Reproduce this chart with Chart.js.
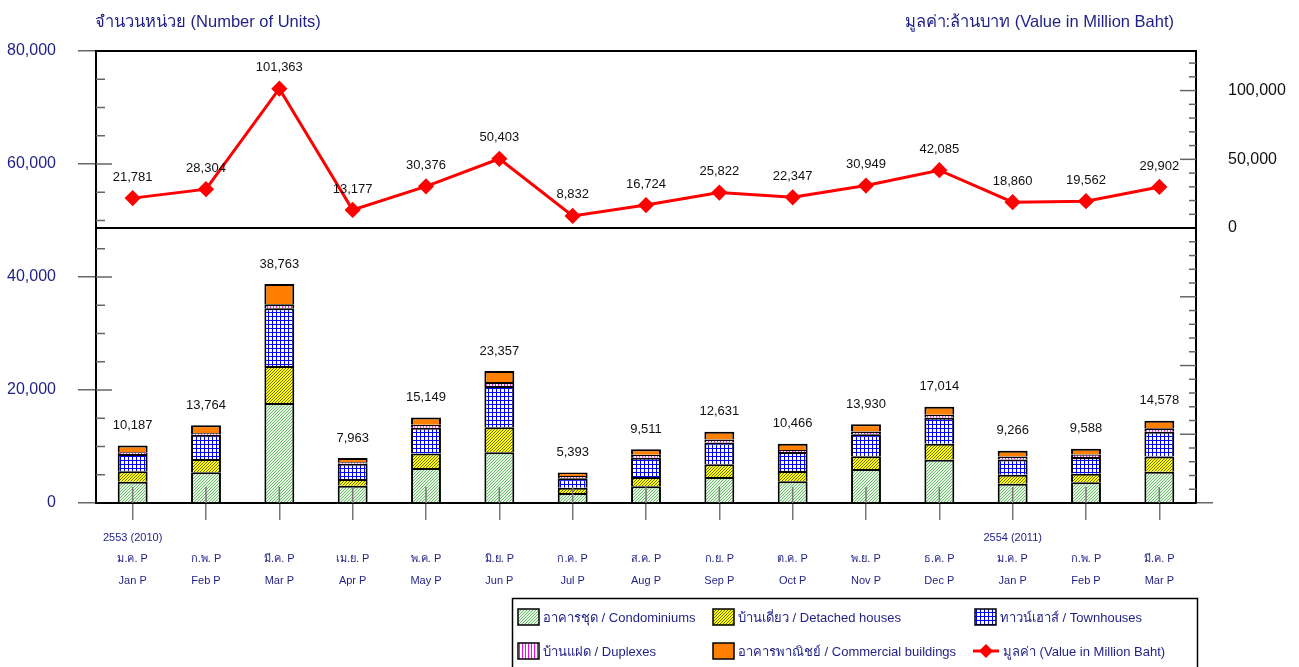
<!DOCTYPE html>
<html>
<head>
<meta charset="utf-8">
<script src="https://cdn.jsdelivr.net/npm/chart.js@4"></script>
<style>
  body { margin: 0; background: #fff; }
  canvas { display: block; }
</style>
</head>
<body>
<canvas id="housingChart" width="1299" height="667"></canvas>
<script>
const yearRow = ["2553 (2010)", "", "", "", "", "", "", "", "", "", "", "", "2554 (2011)", "", ""];
const thaiMonths = ["ม.ค. P", "ก.พ. P", "มี.ค. P", "เม.ย. P", "พ.ค. P", "มิ.ย. P", "ก.ค. P", "ส.ค. P", "ก.ย. P", "ต.ค. P", "พ.ย. P", "ธ.ค. P", "ม.ค. P", "ก.พ. P", "มี.ค. P"];
const engMonths = ["Jan P", "Feb P", "Mar P", "Apr P", "May P", "Jun P", "Jul P", "Aug P", "Sep P", "Oct P", "Nov P", "Dec P", "Jan P", "Feb P", "Mar P"];

// units by type
const condo = [3780, 5430, 17700, 3070, 6200, 9000, 1770, 2950, 4600, 3830, 6020, 7670, 3420, 3660, 5540];
const detached = [1830, 2360, 6550, 1180, 2540, 4400, 940, 1650, 2240, 1830, 2240, 2830, 1590, 1530, 2710];
const townhouse = [3070, 4300, 10210, 2710, 4600, 7300, 1650, 3420, 3890, 3360, 3890, 4600, 2710, 2950, 4370];
const duplex = [300, 300, 710, 250, 500, 700, 400, 500, 500, 350, 500, 500, 500, 450, 600];
const commercial = [1207, 1374, 3593, 753, 1309, 1957, 633, 991, 1401, 1096, 1280, 1414, 1046, 998, 1358];
const totalUnits = [10187, 13764, 38763, 7963, 15149, 23357, 5393, 9511, 12631, 10466, 13930, 17014, 9266, 9588, 14578];

// value in million baht
const valueMB = [21781, 28304, 101363, 13177, 30376, 50403, 8832, 16724, 25822, 22347, 30949, 42085, 18860, 19562, 29902];

const leftTicks = [0, 20000, 40000, 60000, 80000];
const rightLabels = [0, 50000, 100000];

const NAVY = "#1f1f86";
const FONT = '"Liberation Sans", "DejaVu Sans", "Noto Sans", sans-serif';

function tile(size, bg, fg, pixels) {
  const c = document.createElement("canvas");
  c.width = size; c.height = size;
  const g = c.getContext("2d");
  g.fillStyle = bg;
  g.fillRect(0, 0, size, size);
  g.fillStyle = fg;
  pixels.forEach(p => g.fillRect(p[0], p[1], 1, 1));
  return g.createPattern(c, "repeat");
}

const pat = {
  condo: tile(3, "#e6f4e6", "#6cbc6c", [[2, 0], [1, 1], [0, 2]]),
  detached: tile(3, "#ffff00", "#6b6b00", [[2, 0], [1, 1], [0, 2]]),
  townhouse: tile(4, "#ffffff", "#0000ff", [[0, 0], [1, 0], [2, 0], [3, 0], [0, 1], [0, 2], [0, 3]]),
  duplex: tile(3, "#ffffff", "#ff00ff", [[0, 0], [0, 1], [0, 2]]),
  commercial: "#ff8000",
};

const fmt = v => v.toLocaleString("en-US");

const decor = {
  id: "decor",
  afterDatasetsDraw(chart) {
    const { ctx, chartArea: a, scales } = chart;
    const x = scales.x, y = scales.y, y2 = scales.y2;
    ctx.save();
    ctx.lineWidth = 1.5;
    ctx.strokeStyle = "#666";
    const seg = (x1, y1, x2, y2_) => { ctx.beginPath(); ctx.moveTo(x1, y1); ctx.lineTo(x2, y2_); ctx.stroke(); };

    // inner ticks, left axis
    for (let v = 5000; v < 80000; v += 5000) {
      const py = y.getPixelForValue(v);
      seg(a.left, py, a.left + (v % 20000 === 0 ? 16 : 9), py);
    }
    // inner ticks, right axis
    for (let v = -190000; v <= 120000; v += 10000) {
      if (v === 0) continue;
      const py = y2.getPixelForValue(v);
      seg(a.right - (v % 50000 === 0 ? 16 : 7), py, a.right, py);
    }
    // category ticks running into the bars
    ctx.strokeStyle = "#777";
    for (let i = 0; i < engMonths.length; i++) {
      const px = x.getPixelForValue(i);
      seg(px, a.bottom - 16, px, a.bottom);
    }
    // top frame and value zero line
    ctx.strokeStyle = "#000";
    ctx.lineWidth = 2;
    seg(a.left, a.top, a.right, a.top);
    const z = y2.getPixelForValue(0);
    seg(a.left, z, a.right, z);

    // right axis labels
    ctx.fillStyle = "#111";
    ctx.font = "16px " + FONT;
    ctx.textAlign = "left";
    ctx.textBaseline = "middle";
    rightLabels.forEach(v => ctx.fillText(fmt(v), a.right + 32, y2.getPixelForValue(v)));

    // labels
    ctx.font = "13px " + FONT;
    ctx.textAlign = "center";
    totalUnits.forEach((t, i) => {
      ctx.fillText(fmt(t), x.getPixelForValue(i), y.getPixelForValue(t) - 20);
    });
    const lineMeta = chart.getDatasetMeta(5);
    lineMeta.data.forEach((pt, i) => {
      ctx.fillText(fmt(valueMB[i]), pt.x, pt.y - 21);
    });
    ctx.restore();
  },
  afterDraw(chart) {
    const ctx = chart.ctx;
    ctx.save();
    ctx.fillStyle = NAVY;
    ctx.font = "16.5px " + FONT;
    ctx.textBaseline = "middle";
    ctx.textAlign = "left";
    ctx.fillText("จำนวนหน่วย (Number of Units)", 95, 22);
    ctx.textAlign = "right";
    ctx.fillText("มูลค่า:ล้านบาท (Value in Million Baht)", 1174, 22);

    // legend box
    ctx.strokeStyle = "#000";
    ctx.lineWidth = 1.5;
    ctx.strokeRect(512.5, 598.5, 685, 80);
    const items = [
      [518, 617, pat.condo, "อาคารชุด / Condominiums"],
      [713, 617, pat.detached, "บ้านเดี่ยว / Detached houses"],
      [975, 617, pat.townhouse, "ทาวน์เฮาส์ / Townhouses"],
      [518, 651, pat.duplex, "บ้านแฝด / Duplexes"],
      [713, 651, pat.commercial, "อาคารพาณิชย์ / Commercial buildings"],
      [975, 651, null, "มูลค่า (Value in Million Baht)"],
    ];
    ctx.font = "13px " + FONT;
    ctx.textAlign = "left";
    items.forEach(([lx, ly, fill, text]) => {
      if (fill) {
        ctx.fillStyle = fill;
        ctx.fillRect(lx, ly - 8, 21, 16);
        ctx.lineWidth = 1.5;
        ctx.strokeStyle = "#000";
        ctx.strokeRect(lx, ly - 8, 21, 16);
        ctx.fillStyle = NAVY;
        ctx.fillText(text, lx + 25, ly + 1);
      } else {
        ctx.strokeStyle = "#ff0000";
        ctx.lineWidth = 3;
        ctx.beginPath(); ctx.moveTo(lx - 2, ly); ctx.lineTo(lx + 24, ly); ctx.stroke();
        ctx.fillStyle = "#ff0000";
        ctx.beginPath();
        ctx.moveTo(lx + 11, ly - 7); ctx.lineTo(lx + 18, ly); ctx.lineTo(lx + 11, ly + 7); ctx.lineTo(lx + 4, ly);
        ctx.closePath(); ctx.fill();
        ctx.fillStyle = NAVY;
        ctx.fillText(text, lx + 28, ly + 1);
      }
    });
    ctx.restore();
  },
};

const barCommon = {
  type: "bar",
  yAxisID: "y",
  borderColor: "#000",
  borderWidth: 2,
  barPercentage: 0.51,
  categoryPercentage: 0.8,
  order: 2,
};

Chart.defaults.font.family = FONT;

new Chart(document.getElementById("housingChart"), {
  type: "bar",
  data: {
    labels: engMonths.map((m, i) => [yearRow[i], thaiMonths[i], m]),
    datasets: [
      { ...barCommon, label: "อาคารชุด / Condominiums", data: condo, backgroundColor: pat.condo },
      { ...barCommon, label: "บ้านเดี่ยว / Detached houses", data: detached, backgroundColor: pat.detached },
      { ...barCommon, label: "ทาวน์เฮาส์ / Townhouses", data: townhouse, backgroundColor: pat.townhouse },
      { ...barCommon, label: "บ้านแฝด / Duplexes", data: duplex, backgroundColor: pat.duplex },
      { ...barCommon, label: "อาคารพาณิชย์ / Commercial buildings", data: commercial, backgroundColor: pat.commercial },
      {
        type: "line",
        label: "มูลค่า (Value in Million Baht)",
        data: valueMB,
        yAxisID: "y2",
        borderColor: "#ff0000",
        borderWidth: 3,
        pointStyle: "rectRot",
        pointRadius: 6,
        pointBackgroundColor: "#ff0000",
        pointBorderColor: "#ff0000",
        tension: 0,
        order: 1,
      },
    ],
  },
  options: {
    responsive: false,
    animation: false,
    layout: { padding: { top: 51, left: 0, right: 0, bottom: 0 } },
    plugins: { legend: { display: false }, tooltip: { enabled: false } },
    scales: {
      x: {
        stacked: true,
        grid: { drawOnChartArea: false, offset: false, tickLength: 17, color: "#777", lineWidth: 1.5 },
        border: { color: "#000", width: 2 },
        ticks: { color: NAVY, font: { size: 11, lineHeight: "21.5px" }, padding: 7, maxRotation: 0, autoSkip: false },
        afterFit(s) { s.height = 164; },
      },
      y: {
        stacked: true,
        position: "left",
        min: 0,
        max: 80000,
        afterBuildTicks(s) { s.ticks = leftTicks.map(v => ({ value: v })); },
        ticks: { color: NAVY, font: { size: 16 }, padding: 22, callback: v => fmt(v) },
        grid: { drawOnChartArea: false, tickLength: 18, color: "#666", lineWidth: 1.5 },
        border: { color: "#000", width: 2 },
        afterFit(s) { s.width = 96; },
      },
      y2: {
        position: "right",
        min: -200000,
        max: 128800,
        afterBuildTicks(s) { s.ticks = s.ticks.filter(t => t.value % 50000 === 0); },
        ticks: { stepSize: 50000, display: false },
        grid: { drawOnChartArea: false, tickLength: 17, color: "#666", lineWidth: 1.5 },
        border: { color: "#000", width: 2 },
        afterFit(s) { s.width = 103; },
      },
    },
  },
  plugins: [decor],
});
</script>
</body>
</html>
